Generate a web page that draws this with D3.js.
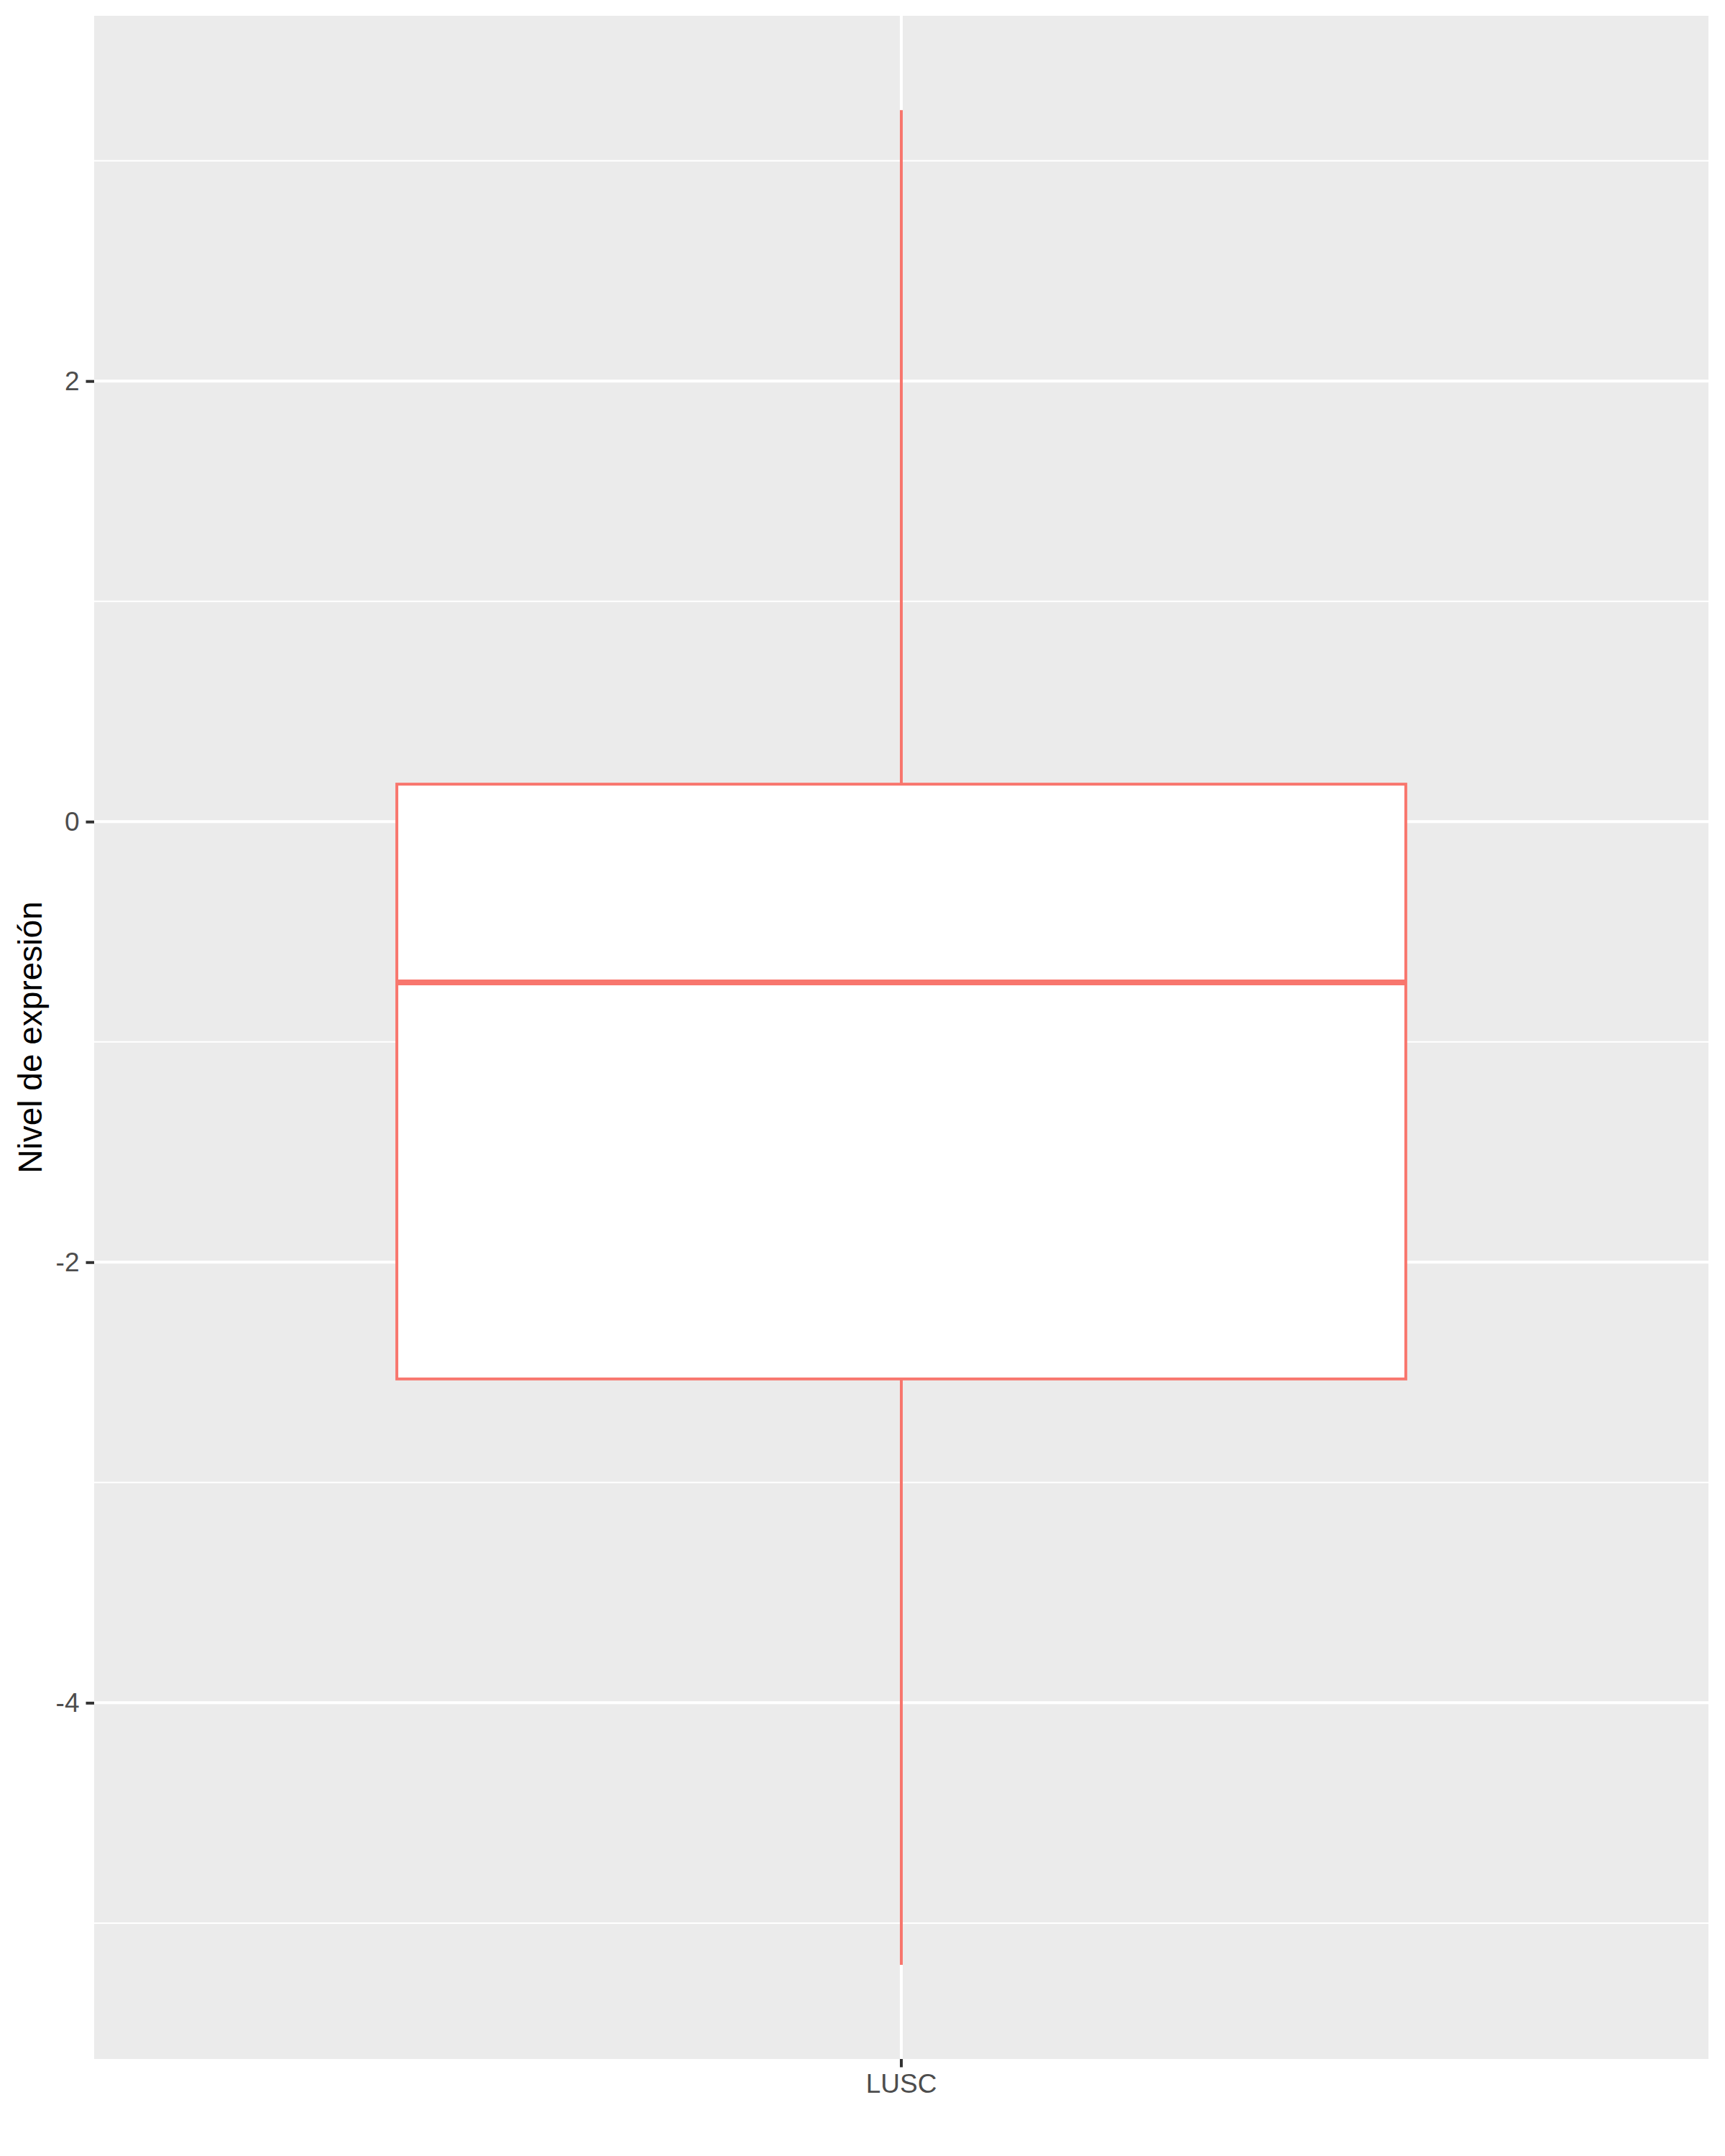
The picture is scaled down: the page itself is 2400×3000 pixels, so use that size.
<!DOCTYPE html>
<html>
<head>
<meta charset="utf-8">
<script src="https://cdn.jsdelivr.net/npm/d3@7"></script>
<style>
  html, body { margin: 0; padding: 0; background: #ffffff; }
  svg { display: block; }
</style>
</head>
<body>
<svg id="chart" width="2400" height="3000"></svg>
<script>
// ---- data ----
const categories = ["LUSC"];
const whiskerLow  = [-5.19];
const boxLower    = [-2.53];
const boxMedian   = [-0.73];
const boxUpper    = [0.17];
const whiskerHigh = [3.23];
const yTickValues = [-4, -2, 0, 2];
const yMinorValues = [-5, -3, -1, 1, 3];
const yTitle = "Nivel de expresión";

// ---- layout ----
const panel = { left: 131, right: 2377, top: 22, bottom: 2865 };
const yDomain = [-5.617, 3.658];
const red = "#F8766D";

const svg = d3.select("#chart");

const y = d3.scaleLinear().domain(yDomain).range([panel.bottom, panel.top]);
const x = d3.scaleBand().domain(categories).range([panel.left, panel.right])
  .paddingInner(0).paddingOuter(0.1);

// background
svg.append("rect")
  .attr("x", panel.left).attr("y", panel.top)
  .attr("width", panel.right - panel.left).attr("height", panel.bottom - panel.top)
  .attr("fill", "#EBEBEB");

// minor gridlines
svg.append("g").selectAll("line").data(yMinorValues).join("line")
  .attr("x1", panel.left).attr("x2", panel.right)
  .attr("y1", d => y(d)).attr("y2", d => y(d))
  .attr("stroke", "#ffffff").attr("stroke-width", 2);

// major gridlines
svg.append("g").selectAll("line").data(yTickValues).join("line")
  .attr("x1", panel.left).attr("x2", panel.right)
  .attr("y1", d => y(d)).attr("y2", d => y(d))
  .attr("stroke", "#ffffff").attr("stroke-width", 4);

svg.append("g").selectAll("line").data(categories).join("line")
  .attr("x1", d => x(d) + x.bandwidth() / 2).attr("x2", d => x(d) + x.bandwidth() / 2)
  .attr("y1", panel.top).attr("y2", panel.bottom)
  .attr("stroke", "#ffffff").attr("stroke-width", 4);

// boxplots
const boxes = categories.map((c, i) => ({
  c, lo: whiskerLow[i], q1: boxLower[i], med: boxMedian[i], q3: boxUpper[i], hi: whiskerHigh[i]
}));
const g = svg.append("g");
const bw = x.bandwidth() * 0.75;
boxes.forEach(b => {
  const cx = x(b.c) + x.bandwidth() / 2;
  g.append("line").attr("x1", cx).attr("x2", cx)
    .attr("y1", y(b.hi)).attr("y2", y(b.q3))
    .attr("stroke", red).attr("stroke-width", 4);
  g.append("line").attr("x1", cx).attr("x2", cx)
    .attr("y1", y(b.q1)).attr("y2", y(b.lo))
    .attr("stroke", red).attr("stroke-width", 4);
  g.append("rect")
    .attr("x", cx - bw / 2).attr("y", y(b.q3))
    .attr("width", bw).attr("height", y(b.q1) - y(b.q3))
    .attr("fill", "#ffffff").attr("stroke", red).attr("stroke-width", 4);
  g.append("line").attr("x1", cx - bw / 2).attr("x2", cx + bw / 2)
    .attr("y1", y(b.med)).attr("y2", y(b.med))
    .attr("stroke", red).attr("stroke-width", 8);
});

// axes
const font = "'Liberation Sans', Arial, Helvetica, sans-serif";
const yAxis = svg.append("g").attr("transform", `translate(${panel.left},0)`)
  .call(d3.axisLeft(y).tickValues(yTickValues).tickSize(11.5).tickPadding(9)
    .tickFormat(d => d3.format("d")(d).replace("−", "-")));
yAxis.select(".domain").remove();
yAxis.selectAll(".tick line").attr("stroke", "#333333").attr("stroke-width", 4);
yAxis.selectAll(".tick text").attr("fill", "#4D4D4D")
  .style("font-family", font).style("font-size", "37px");

const xAxis = svg.append("g").attr("transform", `translate(0,${panel.bottom})`)
  .call(d3.axisBottom(x).tickSize(11.5).tickPadding(9));
xAxis.select(".domain").remove();
xAxis.selectAll(".tick line").attr("stroke", "#333333").attr("stroke-width", 4);
xAxis.selectAll(".tick text").attr("fill", "#4D4D4D")
  .style("font-family", font).style("font-size", "37px");

// y title
svg.append("text")
  .attr("transform", `translate(58,${(panel.top + panel.bottom) / 2}) rotate(-90)`)
  .attr("text-anchor", "middle")
  .attr("fill", "#000000")
  .style("font-family", font).style("font-size", "46px")
  .text(yTitle);
</script>
</body>
</html>
